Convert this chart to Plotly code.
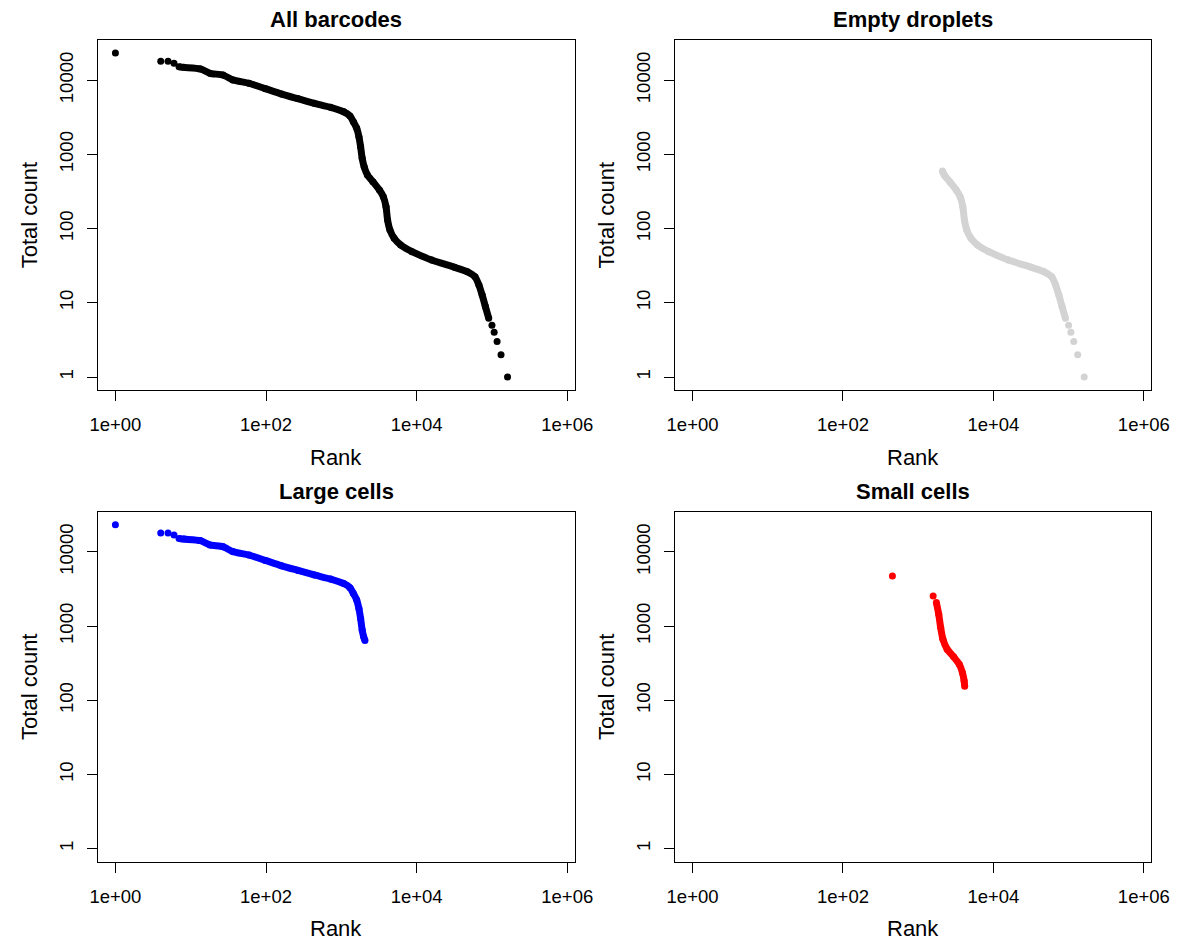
import plotly.graph_objects as go

# ---------------- data (rank, total count) ----------------
# All barcodes
all_rank_head = [1, 4, 5, 6]
all_count_head = [23300, 18000, 18000, 16900]
all_rank_band = [7, 8.1, 13.4, 18, 26.8, 36.2, 59.6, 98, 161, 266, 437, 719, 1072, 1300,
                 1445, 1600, 1713, 1803, 1892, 2009, 2222, 2627, 3208, 3615, 3924, 4113,
                 4418, 5027, 6142, 8690, 15810, 31840, 47340, 59570, 67150, 74130, 81800,
                 90600]
all_count_band = [15200, 14900, 14200, 12400, 11750, 10100, 9080, 7690, 6500, 5630, 4890,
                  4310, 3760, 3300, 2760, 2250, 1730, 1270, 886, 683, 527, 429, 331, 269,
                  197, 131, 96, 74, 60, 48.8, 37.7, 30.1, 26.2, 22.5, 17.4, 12.7, 8.9, 6.2]
all_rank_tail = [100000, 107000, 117000, 132000, 161000]
all_count_tail = [5, 4, 3, 2, 1]

# Empty droplets
empty_rank_band = [2100, 2222, 2627, 3208, 3615, 3924, 4113, 4418, 5027, 6142, 8690, 15810,
                   31840, 47340, 59570, 67150, 74130, 81800, 90600]
empty_count_band = [600, 527, 429, 331, 269, 197, 131, 96, 74, 60, 48.8, 37.7, 30.1, 26.2,
                    22.5, 17.4, 12.7, 8.9, 6.2]
empty_rank_tail = [100000, 107000, 117000, 132000, 161000]
empty_count_tail = [5, 4, 3, 2, 1]

# Large cells
large_rank_head = [1, 4, 5, 6]
large_count_head = [23300, 18000, 18000, 16900]
large_rank_band = [7, 8.1, 13.4, 18, 26.8, 36.2, 59.6, 98, 161, 266, 437, 719, 1072, 1300,
                   1445, 1600, 1713, 1803, 1892, 1980, 2060]
large_count_band = [15200, 14900, 14200, 12400, 11750, 10100, 9080, 7690, 6500, 5630, 4890,
                    4310, 3760, 3300, 2760, 2250, 1730, 1270, 886, 720, 640]

# Small cells
small_rank_head = [454, 1580]
small_count_head = [4750, 2550]
small_rank_band = [1745, 1875, 1990, 2132, 2424, 2961, 3510, 3873, 4078, 4150]
small_count_band = [2073, 1446, 955, 666, 489, 385, 307, 236, 183, 155]

x_tickvals = [1, 100, 10000, 1000000]
x_ticktext = ["1e+00", "1e+02", "1e+04", "1e+06"]
y_tickvals = [1, 10, 100, 1000, 10000]
y_ticktext = ["1", "10", "100", "1000", "10000"]

titles = ["All barcodes", "Empty droplets", "Large cells", "Small cells"]
colors = ["#000000", "#D3D3D3", "#0000FF", "#FF0000"]

FONT = "Liberation Sans, Arial, Helvetica, sans-serif"
MS = 7

fig = go.Figure()


def add_panel(idx, heads, bands, color):
    xa = "x" if idx == 1 else f"x{idx}"
    ya = "y" if idx == 1 else f"y{idx}"
    for rx, cy in bands:
        fig.add_trace(go.Scatter(x=rx, y=cy, mode="lines+markers", xaxis=xa, yaxis=ya,
                                 line=dict(color=color, width=MS, shape="spline",
                                           smoothing=0.6),
                                 marker=dict(color=color, size=MS, line=dict(width=0)),
                                 showlegend=False, hoverinfo="skip"))
    for rx, cy in heads:
        fig.add_trace(go.Scatter(x=rx, y=cy, mode="markers", xaxis=xa, yaxis=ya,
                                 marker=dict(color=color, size=MS, line=dict(width=0)),
                                 showlegend=False, hoverinfo="skip"))


add_panel(1, [(all_rank_head, all_count_head), (all_rank_tail, all_count_tail)],
          [(all_rank_band, all_count_band)], colors[0])
add_panel(2, [(empty_rank_tail, empty_count_tail)],
          [(empty_rank_band, empty_count_band)], colors[1])
add_panel(3, [(large_rank_head, large_count_head)],
          [(large_rank_band, large_count_band)], colors[2])
add_panel(4, [(small_rank_head, small_count_head)],
          [(small_rank_band, small_count_band)], colors[3])

W, H = 1196, 944
col_x = [(91.7, 579.3), (681.7, 1168.7)]
row_y = [(40, 390), (511.7, 861.7)]


def xdom(c):
    return [col_x[c][0] / W, col_x[c][1] / W]


def ydom(r):
    return [1 - row_y[r][1] / H, 1 - row_y[r][0] / H]


axis_common = dict(type="log", showline=True, mirror=True, linecolor="black", linewidth=1,
                   ticks="outside", ticklen=10, tickwidth=1, tickcolor="black",
                   showgrid=False, zeroline=False,
                   tickfont=dict(family=FONT, size=18.5, color="black"))

layout = dict(width=W, height=H, autosize=False, margin=dict(l=0, r=0, t=0, b=0, pad=0),
              paper_bgcolor="white", plot_bgcolor="white", showlegend=False)

annotations = []
for i in range(4):
    r, c = divmod(i, 2)
    n = "" if i == 0 else str(i + 1)
    layout["xaxis" + n] = dict(axis_common, domain=xdom(c), anchor="y" + n,
                               range=[-0.235, 6.099], tickvals=x_tickvals,
                               ticktext=x_ticktext, ticklabelstandoff=8)
    layout["yaxis" + n] = dict(axis_common, domain=ydom(r), anchor="x" + n,
                               range=[-0.175, 4.542], tickvals=y_tickvals,
                               ticktext=y_ticktext, tickangle=-90, ticklabelstandoff=6)
    cx = (col_x[c][0] + col_x[c][1]) / 2 / W
    top = row_y[r][0]
    bot = row_y[r][1]
    annotations.append(dict(text="<b>" + titles[i] + "</b>", x=cx, y=1 - (top - 20) / H,
                            xref="paper", yref="paper", showarrow=False,
                            xanchor="center", yanchor="middle",
                            font=dict(family=FONT, size=22, color="black")))
    annotations.append(dict(text="Rank", x=cx, y=1 - (bot + 67) / H,
                            xref="paper", yref="paper", showarrow=False,
                            xanchor="center", yanchor="middle",
                            font=dict(family=FONT, size=22, color="black")))
    annotations.append(dict(text="Total count", x=(col_x[c][0] - 70) / W,
                            y=1 - (top + bot) / 2 / H, textangle=-90,
                            xref="paper", yref="paper", showarrow=False,
                            xanchor="center", yanchor="middle",
                            font=dict(family=FONT, size=22, color="black")))

layout["annotations"] = annotations
fig.update_layout(**layout)
fig.write_html("out.html", config={"displayModeBar": False})
